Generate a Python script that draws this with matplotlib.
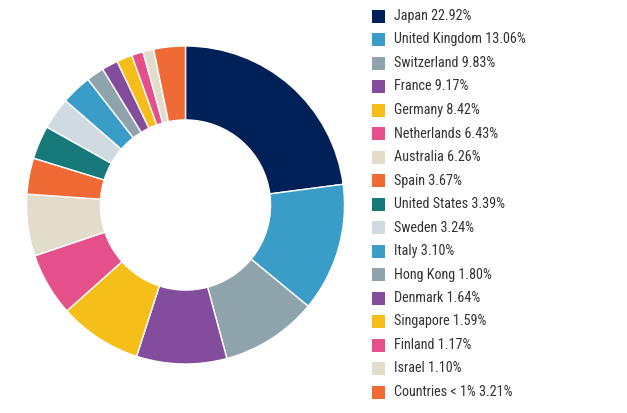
import matplotlib
matplotlib.use("Agg")
import matplotlib.pyplot as plt
from matplotlib.patches import Rectangle

countries = ["Japan", "United Kingdom", "Switzerland", "France", "Germany", "Netherlands",
             "Australia", "Spain", "United States", "Sweden", "Italy", "Hong Kong",
             "Denmark", "Singapore", "Finland", "Israel", "Countries < 1%"]
values = [22.92, 13.06, 9.83, 9.17, 8.42, 6.43, 6.26, 3.67, 3.39, 3.24, 3.10, 1.80,
          1.64, 1.59, 1.17, 1.10, 3.21]
colors = ["#002157", "#3a9dc8", "#8fa3ad", "#844c9c", "#f5be19", "#e5508a", "#e2dccb",
          "#f06a36", "#17797a", "#cfdbe1", "#3a9dc8", "#8fa3ad", "#844c9c", "#f5be19",
          "#e5508a", "#e2dccb", "#f06a36"]

plt.rcParams['font.family'] = ['Roboto Condensed', 'DejaVu Sans']

W, H = 627, 413
fig = plt.figure(figsize=(6.27, 4.13), dpi=100)
cx, cy, r = 185.5, 205, 159
ax = fig.add_axes([(cx - r)/W, (H - cy - r)/H, 2*r/W, 2*r/H])
ax.pie(values, colors=colors, startangle=90, counterclock=False,
       wedgeprops=dict(width=0.465, edgecolor="white", linewidth=1.0))
ax.set_xlim(-1, 1)
ax.set_ylim(-1, 1)
ax.set_aspect("equal")
ax.axis("off")

y0 = 16
dy = 23.5
for i, (c, v, col) in enumerate(zip(countries, values, colors)):
    yc = y0 + i * dy
    fig.patches.append(Rectangle((372/W, 1 - (yc + 6.5)/H), 13/W, 13/H,
                                 transform=fig.transFigure, facecolor=col, edgecolor="none"))
    fig.text(394/W, 1 - yc/H, f"{c} {v:.2f}%", fontsize=10.2, color="#333333",
             fontweight="normal", va="center", ha="left")

fig.savefig("out.png", dpi=100)
